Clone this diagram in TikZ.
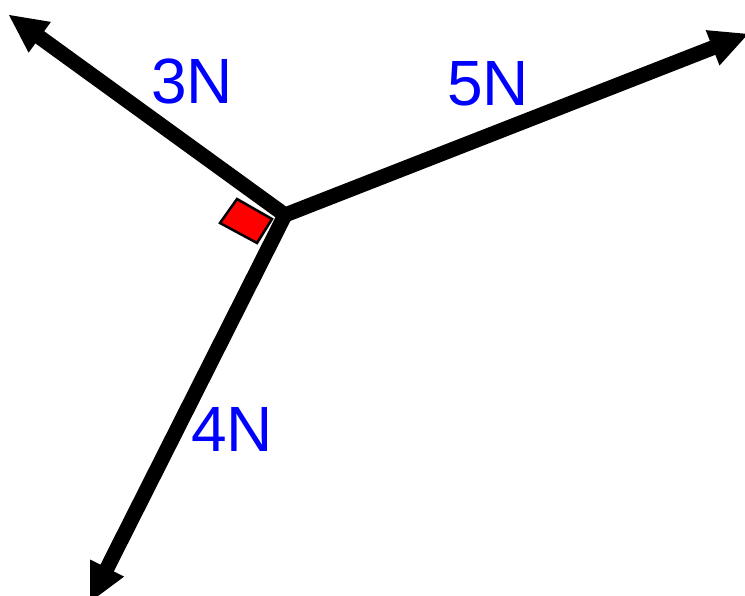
\documentclass[tikz,border=0pt]{standalone}
\usepackage{fontspec}
\setmainfont{Liberation Sans}
\usetikzlibrary{calc}
\begin{document}
\begin{tikzpicture}[x=1pt,y=-1pt,
  shaft/.style={line width=15pt},
  head/.style={fill=black},
  lbl/.style={text=blue,font=\fontsize{64}{64}\selectfont,inner sep=0pt}]
\useasboundingbox (0,0) rectangle (745,596);
\coordinate (O) at (285,215);
\coordinate (A) at (9,15);
\coordinate (B) at (748,34);
\coordinate (C) at (90,602);
\draw[fill=red,draw=black,line width=2.5pt,line join=miter] (237,199) -- (272,219) -- (257,243) -- (220,223) -- cycle;
\foreach \t in {A,B,C}{
  \coordinate (base\t) at ($(\t)!38pt!(O)$);
  \coordinate (back\t) at ($(\t)!34pt!(O)$);
  \draw[shaft] (O) -- (back\t);
  \fill[head] (\t) -- ($(base\t)!19pt!90:(\t)$) -- ($(base\t)!19pt!-90:(\t)$) -- cycle;
}
\node[lbl] (l3) at (192,81) {3N};
\node[lbl] (l5) at (488,84) {5N};
\node[lbl] (l4) at (232,429) {4N};
\end{tikzpicture}
\end{document}
